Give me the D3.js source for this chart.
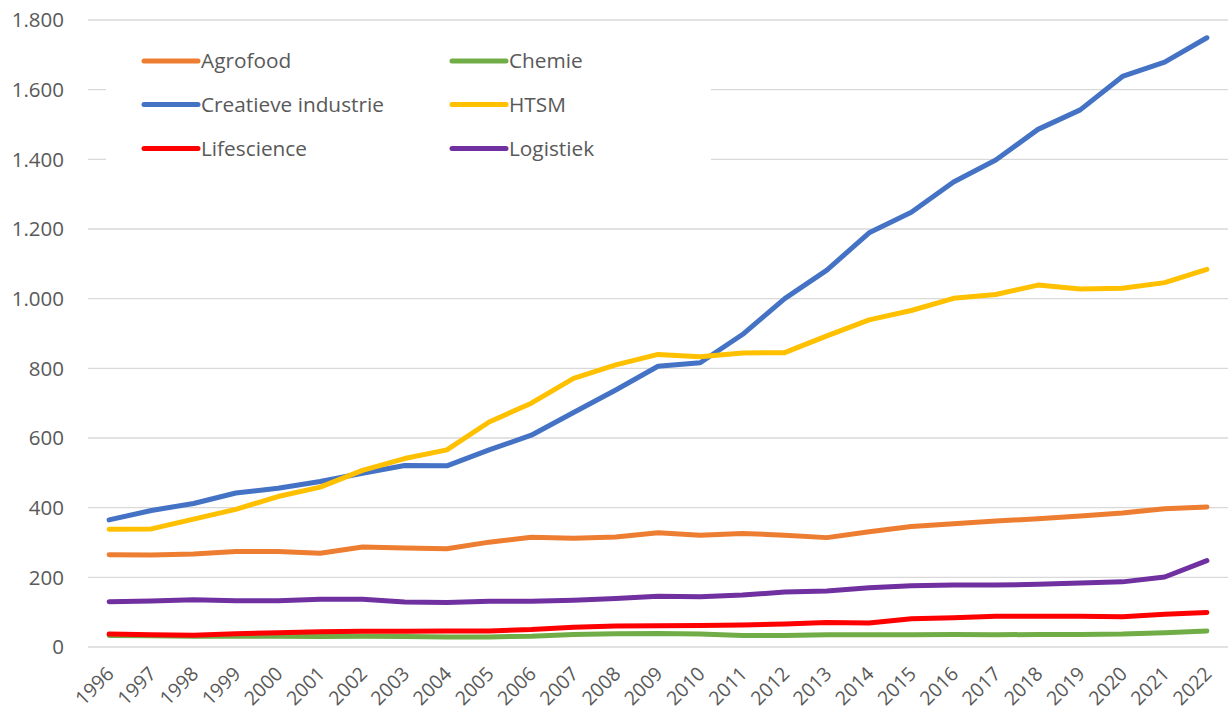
<!DOCTYPE html>
<html>
<head>
<meta charset="utf-8">
<script src="https://cdn.jsdelivr.net/npm/d3@7"></script>
<style>
  html, body { margin: 0; padding: 0; background: #fff; }
  svg { display: block; font-family: "Open Sans", "Noto Sans", sans-serif; }
</style>
</head>
<body>
<svg id="chart" width="1228" height="713"></svg>
<script>
const years = ["1996","1997","1998","1999","2000","2001","2002","2003","2004","2005","2006","2007","2008","2009","2010","2011","2012","2013","2014","2015","2016","2017","2018","2019","2020","2021","2022"];
const seriesNames = ["Agrofood","Chemie","Creatieve industrie","HTSM","Lifescience","Logistiek"];
const seriesColors = ["#ED7D31","#70AD47","#4472C4","#FFC000","#FF0000","#7030A0"];
const agrofood = [265,264,267,274,274,269,287,284,282,301,315,312,316,328,321,326,321,314,331,346,354,362,368,376,385,397,402];
const chemie = [33,32,31,31,31,30,31,30,29,29,31,36,38,39,37,33,33,35,35,35,36,35,36,36,37,41,46];
const creatieve = [365,392,412,442,456,475,499,521,520,566,608,673,738,806,816,897,1000,1082,1189,1248,1335,1398,1486,1542,1638,1679,1749];
const htsm = [338,339,367,395,432,459,507,541,566,646,700,771,810,840,833,844,845,893,939,966,1001,1012,1039,1028,1030,1046,1084];
const lifescience = [37,35,34,38,41,44,45,45,46,46,50,57,60,61,62,63,66,70,69,81,84,88,88,88,87,94,99];
const logistiek = [130,132,136,133,133,137,137,129,128,131,131,134,139,146,144,149,158,161,170,176,178,178,180,184,187,201,248];
const yTicks = [0,200,400,600,800,1000,1200,1400,1600,1800];

const seriesValues = [agrofood, chemie, creatieve, htsm, lifescience, logistiek];

const svg = d3.select("#chart");
const plot = {left: 88, right: 1228, top: 20, bottom: 647};

const x = d3.scaleBand().domain(years).range([plot.left, plot.right]);
const y = d3.scaleLinear().domain([0, 1800]).range([plot.bottom, plot.top]);
const fmt = d3.formatLocale({decimal: ",", thousands: ".", grouping: [3], currency: ["€",""]}).format(",d");

// gridlines
svg.append("g").selectAll("line").data(yTicks).join("line")
  .attr("x1", plot.left).attr("x2", plot.right)
  .attr("y1", d => y(d)).attr("y2", d => y(d))
  .attr("stroke", "#d9d9d9").attr("stroke-width", 1.3);

// y axis labels
svg.append("g").selectAll("text").data(yTicks).join("text")
  .attr("x", 64).attr("y", d => y(d)).attr("dy", "0.357em")
  .attr("text-anchor", "end").attr("font-size", 20.5).attr("fill", "#595959")
  .text(d => fmt(d));

// x axis labels
svg.append("g").selectAll("text").data(years).join("text")
  .attr("transform", d => `translate(${x(d) + x.bandwidth()/2 + 6},675) rotate(-45)`)
  .attr("text-anchor", "end").attr("font-size", 19.5).attr("fill", "#595959")
  .text(d => d);

// legend background
svg.append("rect").attr("x", 106).attr("y", 34).attr("width", 605).attr("height", 150).attr("fill", "#fff");

// lines
const line = d3.line().x((d, i) => x(years[i]) + x.bandwidth()/2).y(d => y(d));
svg.append("g").selectAll("path").data(seriesValues).join("path")
  .attr("d", d => line(d))
  .attr("fill", "none")
  .attr("stroke", (d, i) => seriesColors[i])
  .attr("stroke-width", 5)
  .attr("stroke-linejoin", "round")
  .attr("stroke-linecap", "round");

// legend
const legCols = [142, 450];
const legRows = [61, 104.5, 148.5];
const leg = svg.append("g").selectAll("g").data(seriesNames).join("g")
  .attr("transform", (d, i) => `translate(${legCols[i % 2]},${legRows[Math.floor(i / 2)]})`);
leg.append("line").attr("x1", 2).attr("x2", 56).attr("y1", 0).attr("y2", 0)
  .attr("stroke", (d, i) => seriesColors[i]).attr("stroke-width", 5).attr("stroke-linecap", "round");
leg.append("text").attr("x", 59).attr("y", 0).attr("dy", "0.357em")
  .attr("font-size", 20.8).attr("fill", "#595959").text(d => d);
</script>
</body>
</html>
